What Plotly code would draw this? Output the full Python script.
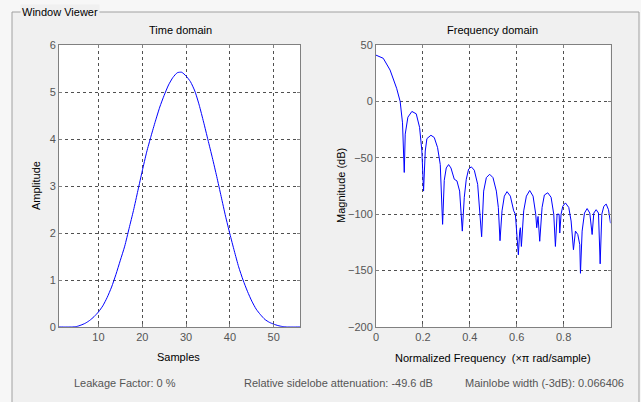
import plotly.graph_objects as go

W, H = 641, 402

# Time domain data (sample index, amplitude)
samples = list(range(1, 57))
amplitude = [0.0, 0.0, 0.0, 0.0, 0.01, 0.04, 0.08, 0.14, 0.22, 0.32,
             0.45, 0.63, 0.85, 1.12, 1.42, 1.72, 2.10, 2.48, 2.90, 3.32,
             3.72, 4.06, 4.38, 4.68, 4.93, 5.15, 5.31, 5.41, 5.42, 5.34,
             5.22, 5.02, 4.72, 4.36, 3.98, 3.60, 3.20, 2.78, 2.36, 1.98,
             1.62, 1.28, 1.00, 0.76, 0.55, 0.38, 0.26, 0.16, 0.10, 0.06,
             0.03, 0.01, 0.0, 0.0, 0.0, 0.0]

# Frequency domain data (normalized frequency, magnitude dB)
freq = [0.0, 0.031, 0.06, 0.088, 0.103, 0.113, 0.1205,
        0.1246, 0.136, 0.153, 0.1715, 0.1858, 0.1957, 0.2028,
        0.210, 0.2171, 0.2342, 0.2484, 0.2626, 0.274, 0.284,
        0.2911, 0.2996, 0.3096, 0.3196, 0.3338, 0.3452, 0.3566, 0.368,
        0.3765, 0.385, 0.395, 0.4064, 0.4192, 0.4335, 0.442, 0.4505,
        0.4591, 0.4705, 0.4847, 0.4989, 0.5132, 0.5217, 0.5288,
        0.5374, 0.5473, 0.5587, 0.573, 0.5872, 0.5943, 0.6071, 0.6128, 0.6157, 0.620,
        0.6299, 0.6413, 0.6555, 0.6698, 0.6811, 0.6854, 0.6911, 0.6982,
        0.7082, 0.7181, 0.7324, 0.7466, 0.758, 0.7651,
        0.7722, 0.7808, 0.7836, 0.7893, 0.7964, 0.8078, 0.822, 0.832, 0.842,
        0.8505, 0.8605, 0.869, 0.8719, 0.879, 0.889, 0.9004, 0.9117, 0.9217,
        0.9288, 0.9388, 0.9488, 0.9559, 0.963, 0.9715, 0.9815, 0.9915, 1.0]
magnitude = [41, 38.2, 27.8, 11.6, 0, -19, -63,
             -29, -14, -8.9, -11, -23, -44, -79.5,
             -44, -33, -30, -32, -41, -56, -109,
             -70, -59, -56, -59, -69, -70.5, -79.5, -115,
             -85, -69, -60, -58, -61, -73.5, -94, -120,
             -79.5, -67.6, -64.6, -67.6, -79.5, -94, -123.5,
             -97, -84, -80, -84, -97, -100, -136, -115, -112, -128.6,
             -97, -84, -79, -84, -100, -112, -102, -124,
             -94, -83, -81, -85, -100, -128.6,
             -100, -100, -116.7, -100, -93, -90, -94, -106, -131.5,
             -115, -118, -127, -152.4, -115, -99, -95, -99, -118,
             -99, -96, -99, -144, -100, -93, -91, -96, -108]

time_xticks = [10, 20, 30, 40, 50]
time_yticks = [0, 1, 2, 3, 4, 5, 6]
freq_xticks = [0, 0.2, 0.4, 0.6, 0.8]
freq_yticks = [-200, -150, -100, -50, 0, 50]

FONT = "Liberation Sans, Arial, sans-serif"
TICKC = "#555555"
FRAME = "#808080"
GRIDC = "#505050"

def px(x):
    return x / W

def py(y):
    return 1 - y / H

fig = go.Figure()
fig.add_trace(go.Scatter(x=samples, y=amplitude, mode="lines",
                         line=dict(color="#0000ff", width=1, shape="spline", smoothing=0.6),
                         xaxis="x", yaxis="y", showlegend=False))
fig.add_trace(go.Scatter(x=freq, y=magnitude, mode="lines",
                         line=dict(color="#0000ff", width=1),
                         xaxis="x2", yaxis="y2", showlegend=False))

axis_common = dict(showline=True, mirror="ticks", linecolor=FRAME, linewidth=1,
                   ticks="inside", ticklen=3, tickcolor=FRAME, automargin=False,
                   showgrid=True, gridcolor=GRIDC, gridwidth=1, griddash="3px,3px",
                   zeroline=False, tickfont=dict(family=FONT, size=11, color=TICKC))

fig.update_layout(
    width=W, height=H, autosize=False,
    margin=dict(l=0, r=0, t=0, b=0, pad=0, autoexpand=False),
    paper_bgcolor="#f0f0f0",
    plot_bgcolor="#ffffff",
    font=dict(family=FONT, size=11, color="#000000"),
    xaxis=dict(domain=[px(59), px(300)], range=[1, 56], tickvals=time_xticks,
               anchor="y", **axis_common),
    yaxis=dict(domain=[py(327), py(45)], range=[0, 6], tickvals=time_yticks,
               anchor="x", **axis_common),
    xaxis2=dict(domain=[px(376), px(610.5)], range=[0, 1], tickvals=freq_xticks,
                ticktext=["0", "0.2", "0.4", "0.6", "0.8"],
                anchor="y2", **axis_common),
    yaxis2=dict(domain=[py(327), py(45)], range=[-200, 50], tickvals=freq_yticks,
                anchor="x2", **axis_common),
)

shapes = [
    dict(type="rect", xref="paper", yref="paper", x0=0, x1=1, y0=py(12), y1=1,
         fillcolor="#f7f7f7", line=dict(width=0), layer="below"),
    dict(type="rect", xref="paper", yref="paper", x0=0, x1=px(12), y0=0, y1=1,
         fillcolor="#f7f7f7", line=dict(width=0), layer="below"),
    dict(type="rect", xref="paper", yref="paper", x0=px(639), x1=1, y0=0, y1=1,
         fillcolor="#f7f7f7", line=dict(width=0), layer="below"),
    dict(type="line", xref="paper", yref="paper", x0=px(12), x1=px(639), y0=py(12), y1=py(12),
         line=dict(color="#a0a0a0", width=1)),
    dict(type="line", xref="paper", yref="paper", x0=px(12), x1=px(12), y0=py(12), y1=0,
         line=dict(color="#a0a0a0", width=1)),
    dict(type="line", xref="paper", yref="paper", x0=px(639), x1=px(639), y0=py(12), y1=0,
         line=dict(color="#a0a0a0", width=1)),
]
fig.update_layout(shapes=shapes)

def ann(text, x, y, xanchor="center", color="#000000", angle=0, bg=None):
    d = dict(text=text, x=px(x), y=py(y), xref="paper", yref="paper",
             xanchor=xanchor, yanchor="middle", showarrow=False,
             font=dict(family=FONT, size=11, color=color), textangle=angle)
    if bg:
        d["bgcolor"] = bg
        d["borderpad"] = 1
    return d

annotations = [
    ann("Window Viewer", 20, 12, xanchor="left", bg="#f0f0f0"),
    ann("Time domain", 180, 30),
    ann("Frequency domain", 492, 30),
    ann("Samples", 178, 357),
    ann("Normalized Frequency \u00a0(\u00d7\u03c0 rad/sample)", 493, 358),
    ann("Amplitude", 36, 186, angle=-90),
    ann("Magnitude (dB)", 341, 186, angle=-90),
    ann("Leakage Factor: 0 %", 72, 383, xanchor="left", color="#555555"),
    ann("Relative sidelobe attenuation: -49.6 dB", 242, 383, xanchor="left", color="#555555"),
    ann("Mainlobe width (-3dB): 0.066406", 463, 383, xanchor="left", color="#555555"),
]
fig.update_layout(annotations=annotations)

post = ("document.body.style.margin='0';document.body.style.padding='0';"
        "document.documentElement.style.overflow='hidden';")
fig.write_html("out.html", config={"responsive": False, "displayModeBar": False},
               post_script=post)
